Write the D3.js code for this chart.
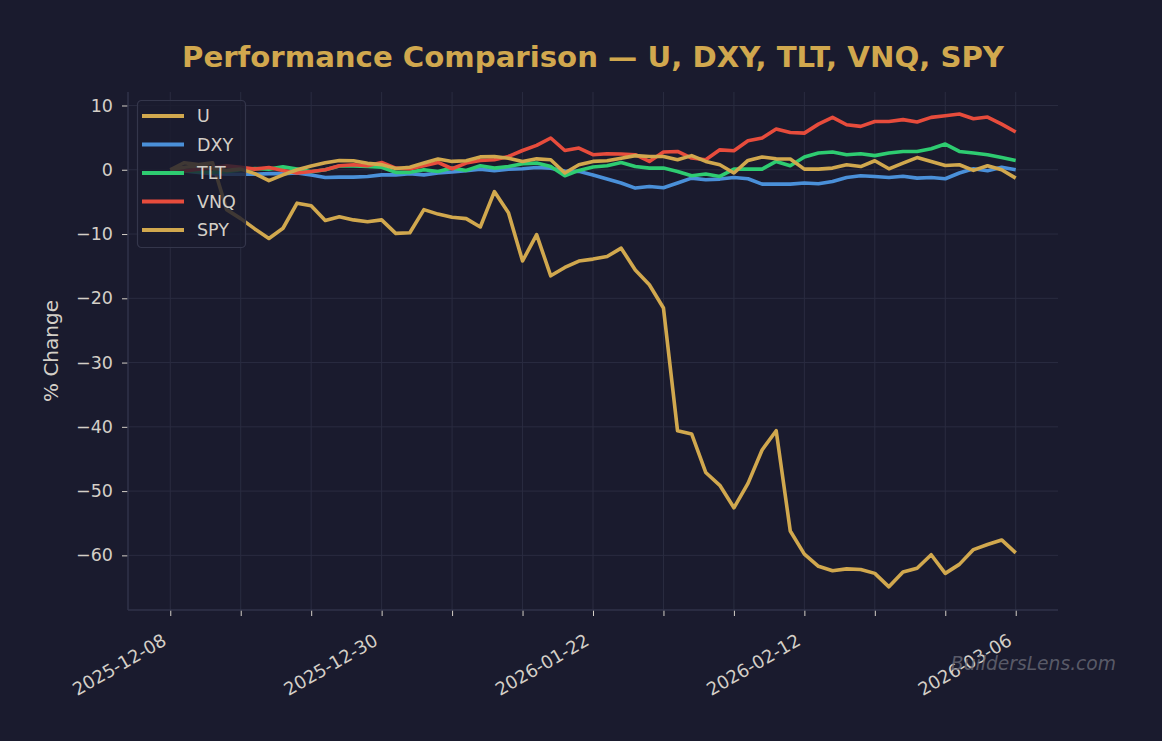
<!DOCTYPE html>
<html>
<head>
<meta charset="utf-8">
<script src="https://cdnjs.cloudflare.com/ajax/libs/d3/7.8.5/d3.min.js"></script>
<style>
	body { margin: 0; background: #1a1b2e; }
	svg { display: block; font-family: "DejaVu Sans", sans-serif; }
	.axis path, .axis line { stroke: #d4cfc7; }
	.axis text { fill: #d4cfc7; font-size: 17.5px; font-family: "DejaVu Sans", sans-serif; }
</style>
</head>
<body>
<div id="chart"></div>
<script>
//trading days on the x axis (index based, weekends and holidays skipped)
var dates = [
	"2025-12-08","2025-12-09","2025-12-10","2025-12-11","2025-12-12",
	"2025-12-15","2025-12-16","2025-12-17","2025-12-18","2025-12-19",
	"2025-12-22","2025-12-23","2025-12-24","2025-12-26","2025-12-29",
	"2025-12-30","2025-12-31","2026-01-02","2026-01-05","2026-01-06",
	"2026-01-07","2026-01-08","2026-01-09","2026-01-12","2026-01-13",
	"2026-01-14","2026-01-15","2026-01-16","2026-01-20","2026-01-21",
	"2026-01-22","2026-01-23","2026-01-26","2026-01-27","2026-01-28",
	"2026-01-29","2026-01-30","2026-02-02","2026-02-03","2026-02-04",
	"2026-02-05","2026-02-06","2026-02-09","2026-02-10","2026-02-11",
	"2026-02-12","2026-02-13","2026-02-17","2026-02-18","2026-02-19",
	"2026-02-20","2026-02-23","2026-02-24","2026-02-25","2026-02-26",
	"2026-02-27","2026-03-02","2026-03-03","2026-03-04","2026-03-05",
	"2026-03-06"
];

//% change since first day
var seriesU = [0, 1.1, 0.8, 1.1, -6.2, -7.6, -9.2, -10.7, -9.1, -5.2,
	-5.6, -7.9, -7.3, -7.8, -8.1, -7.8, -9.9, -9.8, -6.2, -6.9,
	-7.4, -7.6, -8.9, -3.4, -6.7, -14.2, -10.1, -16.5, -15.2, -14.2,
	-13.9, -13.5, -12.2, -15.6, -17.9, -21.5, -40.6, -41.1, -47.1, -49.1,
	-52.6, -48.8, -43.6, -40.6, -56.2, -59.8, -61.7, -62.4, -62.1, -62.2,
	-62.8, -64.9, -62.6, -62.0, -59.9, -62.8, -61.4, -59.1, -58.3, -57.6,
	-59.6];
var seriesDXY = [0, -0.2, -0.4, -0.6, -0.7, -0.7, -0.7, -0.6, -0.6, -0.5,
	-0.8, -1.2, -1.15, -1.15, -1.05, -0.8, -0.8, -0.6, -0.8, -0.5,
	-0.35, -0.15, 0.1, -0.15, 0.1, 0.15, 0.35, 0.25, -0.2, -0.25,
	-0.8, -1.45, -2.05, -2.85, -2.6, -2.8, -2.07, -1.3, -1.56, -1.45,
	-1.2, -1.4, -2.23, -2.23, -2.23, -2.07, -2.18, -1.82, -1.2, -0.93,
	-1.04, -1.2, -1.0, -1.3, -1.2, -1.4, -0.5, 0.16, -0.16, 0.4,
	0.0];
var seriesTLT = [0, -0.2, -0.3, -0.4, -0.3, 0.0, 0.2, 0.1, 0.45, 0.1,
	-0.3, 0.0, 0.6, 0.6, 0.5, 0.4, -0.4, -0.4, 0.0, -0.26,
	0.26, -0.1, 0.62, 0.26, 0.5, 0.93, 1.04, 0.5, -0.93, -0.1,
	0.42, 0.62, 1.14, 0.5, 0.26, 0.26, -0.26, -0.93, -0.67, -1.04,
	0.1, 0.1, 0.1, 1.3, 0.62, 1.98, 2.6, 2.76, 2.34, 2.5,
	2.2, 2.6, 2.85, 2.85, 3.27, 4.0, 2.85, 2.6, 2.34, 1.9,
	1.45];
var seriesVNQ = [0, -0.2, 0.1, 0.3, 0.6, 0.4, 0.1, 0.35, -0.1, -0.5,
	-0.26, 0.0, 0.62, 0.78, 0.62, 1.14, 0.26, 0.16, 0.62, 1.14,
	0.16, 1.04, 1.45, 1.56, 2.07, 3.0, 3.8, 4.94, 3.0, 3.38,
	2.34, 2.5, 2.45, 2.34, 1.3, 2.76, 2.85, 1.82, 1.56, 3.1,
	2.96, 4.5, 4.94, 6.34, 5.8, 5.7, 7.1, 8.15, 7.0, 6.75,
	7.5, 7.5, 7.8, 7.43, 8.15, 8.4, 8.68, 7.95, 8.2, 7.1,
	5.87];
var seriesSPY = [0, 0.4, 0.6, 0.3, -0.1, 0.1, -0.6, -1.7, -0.8, 0.0,
	0.6, 1.1, 1.45, 1.4, 1.0, 0.8, 0.2, 0.4, 1.04, 1.67,
	1.3, 1.4, 2.0, 2.07, 1.8, 1.3, 1.7, 1.56, -0.5, 0.78,
	1.3, 1.4, 1.8, 2.2, 2.07, 2.07, 1.56, 2.2, 1.3, 0.78,
	-0.5, 1.45, 1.98, 1.7, 1.67, 0.1, 0.1, 0.26, 0.78, 0.5,
	1.4, 0.15, 1.04, 1.9, 1.3, 0.67, 0.78, -0.1, 0.62, 0.0,
	-1.3];

var seriesNames = ["U", "DXY", "TLT", "VNQ", "SPY"];
var seriesColors = ["#d1a84e", "#4a90d9", "#2ecc71", "#e74c3c", "#d1a84e"];
var yTicks = [10, 0, -10, -20, -30, -40, -50, -60];

var allSeries = [seriesU, seriesDXY, seriesTLT, seriesVNQ, seriesSPY];

/////////////////////////////////////////////////////////
/////////////////// Layout & scales /////////////////////
/////////////////////////////////////////////////////////

var W = 1162, H = 741,
	plot = {left: 128, right: 1058, top: 92, bottom: 610};

var svg = d3.select("#chart").append("svg")
	.attr("width", W)
	.attr("height", H);

svg.append("rect").attr("width", W).attr("height", H).attr("fill", "#1a1b2e");

var x = d3.scaleLinear()
	.domain([-3, dates.length + 2])	//5% margin like matplotlib
	.range([plot.left, plot.right]);

var y = d3.scaleLinear()
	.domain([-68.5, 12.1])
	.range([plot.bottom, plot.top]);

var xTicks = d3.range(0, dates.length, 5);

/////////////////////////////////////////////////////////
//////////////////////// Grid ///////////////////////////
/////////////////////////////////////////////////////////

var grid = svg.append("g").attr("class", "grid");

grid.selectAll(".hgrid")
	.data(yTicks)
	.join("line")
	.attr("x1", plot.left).attr("x2", plot.right)
	.attr("y1", function(d){ return y(d); })
	.attr("y2", function(d){ return y(d); })
	.style("stroke", "#2a2c40")
	.style("stroke-width", 1);

grid.selectAll(".vgrid")
	.data(xTicks)
	.join("line")
	.attr("y1", plot.top).attr("y2", plot.bottom)
	.attr("x1", function(d){ return x(d); })
	.attr("x2", function(d){ return x(d); })
	.style("stroke", "#2a2c40")
	.style("stroke-width", 1);

/////////////////////////////////////////////////////////
//////////////////////// Axes ///////////////////////////
/////////////////////////////////////////////////////////

var yAxis = svg.append("g")
	.attr("class", "axis")
	.attr("transform", "translate(" + plot.left + ",0)")
	.call(d3.axisLeft(y)
		.tickValues(yTicks)
		.tickSize(6)
		.tickPadding(9)
		.tickFormat(function(d){ return d < 0 ? "\u2212" + Math.abs(d) : d; }));
yAxis.select(".domain").remove();

var xAxis = svg.append("g")
	.attr("class", "axis")
	.attr("transform", "translate(0," + plot.bottom + ")")
	.call(d3.axisBottom(x)
		.tickValues(xTicks)
		.tickSize(6)
		.tickFormat(function(i){ return i % 15 === 0 ? dates[i] : ""; }));
xAxis.select(".domain").remove();

//rotate the date labels like autofmt_xdate
xAxis.selectAll(".tick text")
	.attr("text-anchor", "end")
	.attr("y", 0)
	.attr("dy", 0)
	.style("font-size", "18px")
	.attr("transform", "translate(-3,34) rotate(-30)");

//left and bottom spines
svg.append("line")
	.attr("x1", plot.left).attr("x2", plot.left)
	.attr("y1", plot.top).attr("y2", plot.bottom)
	.style("stroke", "#30334a").style("stroke-width", 1.5);
svg.append("line")
	.attr("x1", plot.left).attr("x2", plot.right)
	.attr("y1", plot.bottom).attr("y2", plot.bottom)
	.style("stroke", "#30334a").style("stroke-width", 1.5);

/////////////////////////////////////////////////////////
//////////////////////// Lines //////////////////////////
/////////////////////////////////////////////////////////

var line = d3.line()
	.x(function(d, i){ return x(i); })
	.y(function(d){ return y(d); });

svg.append("g").selectAll(".series")
	.data(allSeries)
	.join("path")
	.attr("class", "series")
	.attr("d", function(d){ return line(d); })
	.style("fill", "none")
	.style("stroke", function(d, i){ return seriesColors[i]; })
	.style("stroke-width", 3.6)
	.style("stroke-linejoin", "round");

/////////////////////////////////////////////////////////
/////////////////////// Legend //////////////////////////
/////////////////////////////////////////////////////////

var legend = svg.append("g").attr("transform", "translate(137,100)");

legend.append("rect")
	.attr("x", 0.5).attr("y", 0.5)
	.attr("width", 108).attr("height", 147)
	.attr("rx", 4)
	.style("fill", "#1a1b2e")
	.style("fill-opacity", 0.8)
	.style("stroke", "#34364b")
	.style("stroke-width", 1.2);

var items = legend.selectAll(".item")
	.data(seriesNames)
	.join("g")
	.attr("transform", function(d, i){ return "translate(0," + (16 + i * 28.5) + ")"; });

items.append("line")
	.attr("x1", 5).attr("x2", 47)
	.style("stroke", function(d, i){ return seriesColors[i]; })
	.style("stroke-width", 4);

items.append("text")
	.attr("x", 60)
	.attr("dy", "0.36em")
	.style("font-size", "17.5px")
	.style("fill", "#d4cfc7")
	.text(function(d){ return d; });

/////////////////////////////////////////////////////////
//////////////////// Titles & labels ////////////////////
/////////////////////////////////////////////////////////

svg.append("text")
	.attr("x", (plot.left + plot.right) / 2)
	.attr("y", 67)
	.attr("text-anchor", "middle")
	.style("font-size", "29.2px")
	.style("font-weight", "bold")
	.style("fill", "#d1a84e")
	.text("Performance Comparison \u2014 U, DXY, TLT, VNQ, SPY");

svg.append("text")
	.attr("transform", "translate(58," + ((plot.top + plot.bottom) / 2) + ") rotate(-90)")
	.attr("text-anchor", "middle")
	.style("font-size", "20px")
	.style("fill", "#d4cfc7")
	.text("% Change");

//watermark
svg.append("text")
	.attr("x", 1116)
	.attr("y", 670)
	.attr("text-anchor", "end")
	.style("font-size", "18.7px")
	.style("font-style", "italic")
	.style("fill", "#6a6b78")
	.style("fill-opacity", 0.8)
	.text("BuildersLens.com");
</script>
</body>
</html>
